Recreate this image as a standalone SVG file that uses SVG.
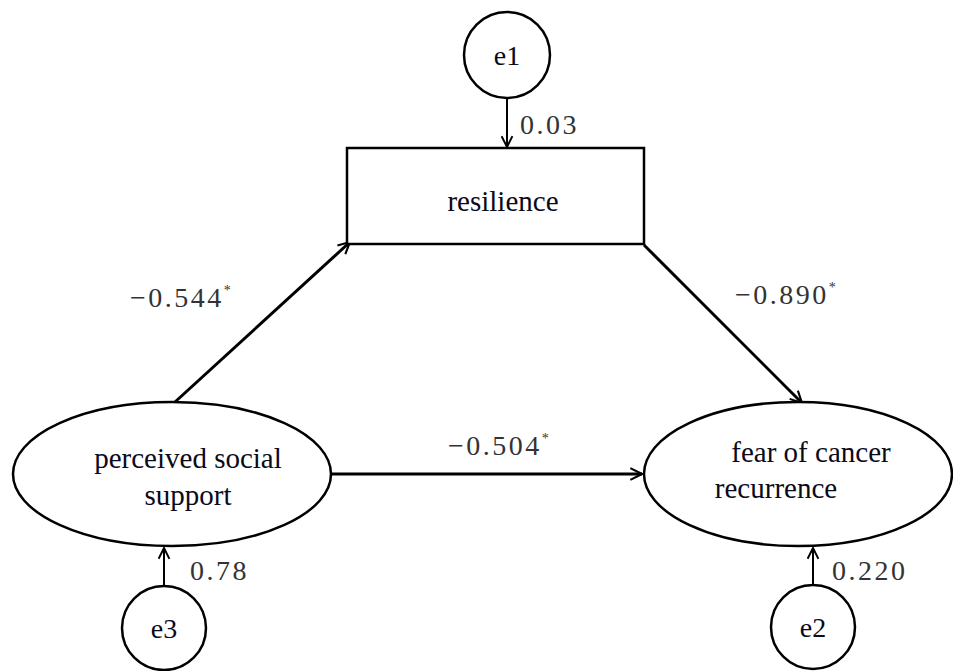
<svg xmlns="http://www.w3.org/2000/svg" width="953" height="671" viewBox="0 0 953 671">
<style>
.shape{fill:#fff;stroke:#000;stroke-width:2.5}
text{font-family:Liberation Serif, DejaVu Serif, serif}
.node{font-size:29px;fill:#0a0a1a;text-anchor:middle}
.num{font-size:28px;fill:#333;letter-spacing:2.5px}
.sup{font-size:14px}
.edge{stroke:#000;stroke-width:3;fill:none;marker-end:url(#arr)}
.err{stroke:#000;stroke-width:2;fill:none;marker-end:url(#arr2)}
</style>
<defs>
<marker id="arr" viewBox="0 0 12 12" refX="11" refY="6" markerWidth="14" markerHeight="14" orient="auto" markerUnits="userSpaceOnUse">
<path d="M1,1 L11,6 L1,11" fill="none" stroke="#000" stroke-width="1.8"/>
</marker>
<marker id="arr2" viewBox="0 0 12 12" refX="11" refY="6" markerWidth="13" markerHeight="13" orient="auto" markerUnits="userSpaceOnUse">
<path d="M1,1 L11,6 L1,11" fill="none" stroke="#000" stroke-width="1.8"/>
</marker>
</defs>
<rect width="953" height="671" fill="#fff"/>
<g id="connectors">
<line class="err" x1="507" y1="98" x2="507" y2="147"/>
<line class="err" x1="164" y1="585" x2="164" y2="548"/>
<line class="err" x1="813" y1="585" x2="813" y2="548"/>
<line class="edge" x1="175" y1="402" x2="350" y2="242"/>
<line class="edge" x1="644" y1="245" x2="802" y2="403"/>
<line class="edge" x1="332" y1="474" x2="642" y2="474"/>
<text class="num" font-family="Liberation Serif, serif" x="130" y="307">−0.544<tspan class="sup" dy="-12">*</tspan></text>
<text class="num" font-family="Liberation Serif, serif" x="735" y="304">−0.890<tspan class="sup" dy="-12">*</tspan></text>
<text class="num" font-family="Liberation Serif, serif" x="448" y="455">−0.504<tspan class="sup" dy="-12">*</tspan></text>
<text class="num" font-family="Liberation Serif, serif" x="520" y="134">0.03</text>
<text class="num" font-family="Liberation Serif, serif" x="190" y="580">0.78</text>
<text class="num" font-family="Liberation Serif, serif" x="832" y="580">0.220</text>
</g>
<g id="e1">
<circle class="shape" cx="507" cy="55" r="43"/>
<text class="node" font-family="Liberation Serif, serif" x="507" y="65" style="font-size:28px">e1</text>
</g>
<g id="resilience">
<rect class="shape" x="347" y="148" width="297" height="96"/>
<text class="node" font-family="Liberation Serif, serif" x="503" y="211">resilience</text>
</g>
<g id="pss">
<ellipse class="shape" cx="172" cy="474" rx="159" ry="72"/>
<text class="node" font-family="Liberation Serif, serif" x="188" y="468">perceived social</text>
<text class="node" font-family="Liberation Serif, serif" x="188" y="505">support</text>
</g>
<g id="fcr">
<ellipse class="shape" cx="798" cy="474" rx="154" ry="72"/>
<text class="node" font-family="Liberation Serif, serif" x="811" y="462">fear of cancer</text>
<text class="node" font-family="Liberation Serif, serif" x="776" y="498">recurrence</text>
</g>
<g id="e3">
<circle class="shape" cx="164" cy="628" r="42"/>
<text class="node" font-family="Liberation Serif, serif" x="164" y="638" style="font-size:28px">e3</text>
</g>
<g id="e2">
<circle class="shape" cx="813" cy="627" r="42"/>
<text class="node" font-family="Liberation Serif, serif" x="813" y="637" style="font-size:28px">e2</text>
</g>
</svg>
